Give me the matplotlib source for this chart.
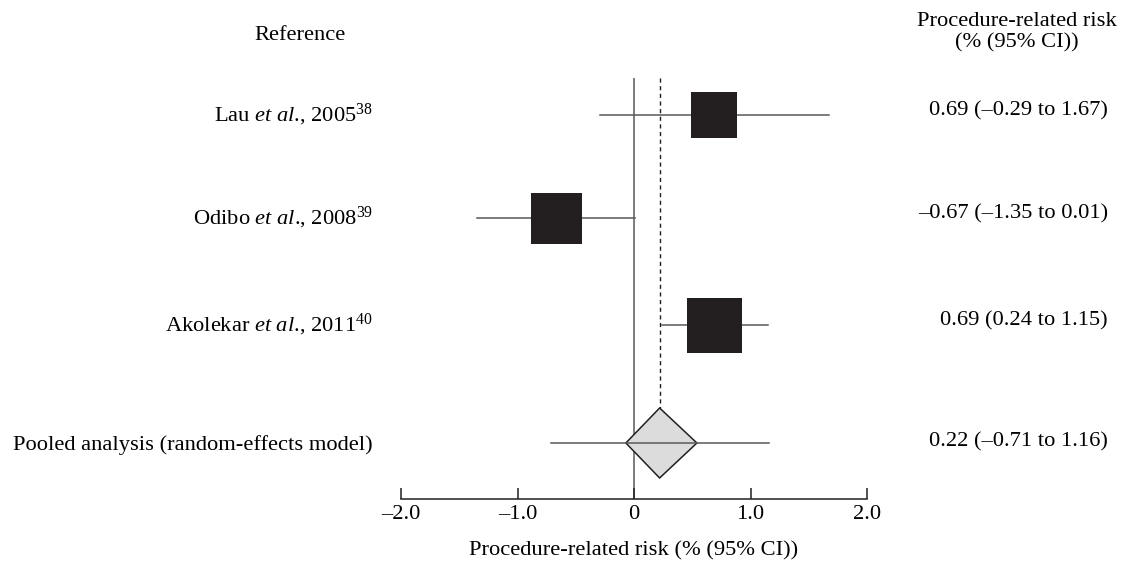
import matplotlib.pyplot as plt
import matplotlib.transforms as mtransforms
from matplotlib.patches import Polygon

plt.rcParams['font.family'] = ['Liberation Serif', 'DejaVu Serif']
plt.rcParams['mathtext.fontset'] = 'custom'
plt.rcParams['mathtext.rm'] = 'Liberation Serif'
plt.rcParams['mathtext.it'] = 'Liberation Serif:italic'

# data
studies = ['Lau', 'Odibo', 'Akolekar']
years = [2005, 2008, 2011]
refs = [38, 39, 40]
estimate = [0.69, -0.67, 0.69]
ci_low = [-0.29, -1.35, 0.24]
ci_high = [1.67, 0.01, 1.15]
box_side_px = [46, 51, 55]   # square size (study weight)

pooled_est = 0.22
pooled_low = -0.71
pooled_high = 1.16
diamond_low = -0.07
diamond_high = 0.54

xticks = [-2, -1, 0, 1, 2]
xticklabels = ['\u20132.0', '\u20131.0', '0', '1.0', '2.0']

def fmt(v):
    s = f'{v:.2f}'
    return s.replace('-', '\u2013')

fig = plt.figure(figsize=(11.24, 5.62), dpi=100)
W, H = 1124, 562
ax_top, ax_bot = 78, 499
ax = fig.add_axes([401 / W, (H - ax_bot) / H, 466 / W, (ax_bot - ax_top) / H])
ax.set_xlim(-2, 2)
ax.set_ylim(ax_bot - ax_top, 0)

row_y = [37, 140, 247]
pooled_y = 365
half_h = 35

line_c = '#58595b'
box_c = '#231f20'
fs = 16.2

# reference lines
ax.axvline(0, color=line_c, lw=1.1, zorder=1)
ax.plot([pooled_est, pooled_est], [0, pooled_y - half_h], color='#231f20',
        lw=1.0, ls=(0, (3, 2.5)), zorder=1)

# studies
for i in range(len(studies)):
    ax.plot([ci_low[i], ci_high[i]], [row_y[i], row_y[i]], color=line_c, lw=1.1, zorder=2)
    side_pt = box_side_px[i] * 72 / 100
    ax.scatter([estimate[i]], [row_y[i]], marker='s', s=side_pt ** 2,
               color=box_c, linewidths=0, zorder=3)

# pooled
dia = Polygon([(diamond_low, pooled_y), (pooled_est, pooled_y - half_h),
               (diamond_high, pooled_y), (pooled_est, pooled_y + half_h)],
              closed=True, facecolor='#dcdcdd', edgecolor='#231f20', lw=1.1, zorder=2)
ax.add_patch(dia)
ax.plot([pooled_low, pooled_high], [pooled_y, pooled_y], color=line_c, lw=1.1, zorder=3)

# axis styling
for sp in ['left', 'top', 'right']:
    ax.spines[sp].set_visible(False)
ax.spines['bottom'].set_color('#231f20')
ax.spines['bottom'].set_linewidth(1.1)
ax.spines['bottom'].set_bounds(-2, 2)
ax.set_yticks([])
ax.set_xticks(xticks)
ax.set_xticklabels(xticklabels, fontsize=fs)
ax.tick_params(axis='x', direction='in', length=8, width=1.1, color='#231f20', pad=4)
ax.set_xlabel('Procedure-related risk (% (95% CI))', fontsize=fs, labelpad=13)
ax.patch.set_alpha(0)

# text columns
tr = mtransforms.blended_transform_factory(fig.transFigure, ax.transData)
for i in range(len(studies)):
    lab = f'{studies[i]} $\\mathit{{et\\ al}}$., {years[i]}$^{{{refs[i]}}}$'
    fig.text(373 / W, row_y[i], lab, transform=tr, ha='right', va='center', fontsize=fs)
    val = f'{fmt(estimate[i])} ({fmt(ci_low[i])} to {fmt(ci_high[i])})'
    fig.text(1108 / W, row_y[i] - 4, val, transform=tr, ha='right', va='center', fontsize=fs)

fig.text(373 / W, pooled_y + 2, 'Pooled analysis (random-effects model)', transform=tr,
         ha='right', va='center', fontsize=fs)
fig.text(1108 / W, pooled_y - 1, f'{fmt(pooled_est)} ({fmt(pooled_low)} to {fmt(pooled_high)})',
         transform=tr, ha='right', va='center', fontsize=fs)

fig.text(300 / W, 1 - 35 / H, 'Reference', ha='center', va='center', fontsize=fs)
fig.text(1017 / W, 1 - 21 / H, 'Procedure-related risk', ha='center', va='center', fontsize=fs)
fig.text(1017 / W, 1 - 43 / H, '(% (95% CI))', ha='center', va='center', fontsize=fs)

fig.savefig('out.png', dpi=100, facecolor='white')
